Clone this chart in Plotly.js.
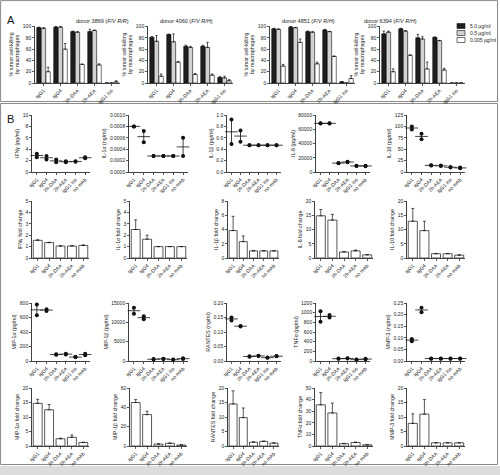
<!DOCTYPE html>
<html><head><meta charset="utf-8">
<script src="https://cdn.plot.ly/plotly-3.0.1.min.js"></script>
<style>html,body{margin:0;padding:0;background:#fff}#chart{width:500px;height:475px}</style>
</head><body><div id="chart"></div>
<script>
// ---------- DATA ----------
const catsA = ['IgG1','IgG4','2h-DAA','2h-AEA','IgG1 iso'];
const catsCyto = ['IgG1','IgG4','2h-DAA','2h-AEA','IgG1 iso','no mAb'];
const catsFold = ['IgG1','IgG4','2h-DAA','2h-AEA','no mAb'];
const concLabels = ['5.0 µg/ml','0.5 µg/ml','0.005 µg/ml'];
const donorNames = ['donor 3869','donor 4060','donor 4851','donor 6394'];
const donorGenotypes = ['F/V R/R','F/V R/H','F/V R/H','F/V R/H'];

const d3869_hi=[98,99,91,91,0],   d3869_hiErr=[1,1,1,4,0];
const d3869_mid=[97,99,90,93,0],  d3869_midErr=[1,1,1,1,0];
const d3869_lo=[20,60,33,32,2],   d3869_loErr=[8,10,0.5,2,2];
const d4060_hi=[81,86,65,65,10],  d4060_hiErr=[1,0.5,2,2,1];
const d4060_mid=[74,73,63,63,9],  d4060_midErr=[10,14,2,9,3];
const d4060_lo=[12,37,15,14,4],   d4060_loErr=[4,1,2,2,2];
const d4851_hi=[96,99,91,94,2],   d4851_hiErr=[1,1,1,1,0.5];
const d4851_mid=[95,98,90,91,0],  d4851_midErr=[1,0.5,1,0.5,0];
const d4851_lo=[30,72,34,47,8],   d4851_loErr=[3,6,3,1,5];
const d6394_hi=[87,96,80,81,0],   d6394_hiErr=[5,1,6,0.5,0];
const d6394_mid=[90,92,78,75,0],  d6394_midErr=[2,1,4,0.5,0];
const d6394_lo=[20,49,25,23,0],   d6394_loErr=[5,1,12,3,0];

// cytokine concentrations, two replicates
const ifng_r1=[3.2,2.8,2.2,1.9,1.9,2.6],  ifng_r2=[2.6,2.2,1.7,1.7,1.8,2.4];
const il1a_r1=[0.0008,0.00072,0.00028,0.00028,0.00028,0.0006], il1a_r2=[0.0008,0.00052,0.00028,0.00028,0.00028,0.00028];
const il1b_r1=[0.92,0.73,0.47,0.47,0.47,0.47], il1b_r2=[0.49,0.53,0.47,0.47,0.47,0.47];
const il8_r1=[68500,68500,12800,14300,8800,8800], il8_r2=[68000,68000,12200,13700,8300,8200];
const il10_r1=[100,84,15,14,11,10], il10_r2=[93,72,14,13,10,8];
const mip1a_r1=[780,715,92,100,57,100], mip1a_r2=[630,690,85,90,50,80];
const mip1b_r1=[13800,11600,500,600,400,700], mip1b_r2=[12200,10800,400,500,300,500];
const rantes_r1=[0.150,0.121,0.016,0.018,0.012,0.017], rantes_r2=[0.140,0.119,0.015,0.017,0.011,0.016];
const tnfa_r1=[1030,950,50,55,30,45], tnfa_r2=[810,900,45,50,25,35];
const mmp3_r1=[0.095,0.23,0.011,0.011,0.011,0.011], mmp3_r2=[0.085,0.21,0.010,0.010,0.010,0.010];

// fold changes
const ifng_fc=[1.55,1.35,1.05,1.05,1.1],  ifng_fcErr=[0.05,0.03,0.02,0.02,0.05];
const il1a_fc=[2.5,1.65,1,1,1],           il1a_fcErr=[0.85,0.35,0,0,0];
const il1b_fc=[3.85,2.3,1,1,1],           il1b_fcErr=[2,0.8,0,0,0];
const il8_fc=[14.8,13.3,2.1,2.5,1.1],     il8_fcErr=[2.2,2,0.1,0.3,0.1];
const il10_fc=[12.9,9.6,1.5,1.5,1.0],     il10_fcErr=[4.5,3.3,0.1,0.1,0.1];
const mip1a_fc=[14.7,12.5,2.5,3.0,1.2],   mip1a_fcErr=[1.4,1.8,0.2,0.8,0.1];
const mip1b_fc=[45,32.5,2,2.8,1],         mip1b_fcErr=[3,3.5,0.2,0.3,0.1];
const rantes_fc=[14.5,9.8,1.3,1.6,1.0],   rantes_fcErr=[4.5,3.3,0.1,0.1,0.05];
const tnfa_fc=[35.5,28.5,2,3,1],          tnfa_fcErr=[10.5,8.5,0.3,0.4,0.1];
const mmp3_fc=[7.8,11,1.1,1.1,1.1],       mmp3_fcErr=[3.3,5,0,0,0];

// ---------- LAYOUT HELPERS ----------
const W=500,H=475;
const FONT='Arial, "Liberation Sans", sans-serif';
function xd(a,b){return [a/W,b/W];}
function yd(t,b){return [1-b/H,1-t/H];}
const barColors=['#1e1e1e','#d2d2d2','#ffffff'];

const traces=[];
const layout={
  width:W,height:H,margin:{l:0,r:0,t:0,b:0},
  paper_bgcolor:'#fff',plot_bgcolor:'rgba(0,0,0,0)',
  font:{family:FONT,size:5,color:'#222'},
  showlegend:false,barmode:'group',bargap:0.18,bargroupgap:0.08,
  annotations:[],shapes:[]
};
let axN=0;
function addAxes(xdom,ydom,cats,yopt){
  axN++;
  const s=axN===1?'':String(axN);
  const common={showline:true,linecolor:'#111',linewidth:0.8,ticks:'outside',ticklen:2,tickwidth:0.7,tickcolor:'#111',
    showgrid:false,zeroline:false,tickfont:{size:5,family:FONT,color:'#222'}};
  layout['xaxis'+s]=Object.assign({},common,{domain:xdom,anchor:'y'+s,type:'category',categoryarray:cats,
    categoryorder:'array',tickangle:-45,range:[-0.5,cats.length-0.5]});
  layout['yaxis'+s]=Object.assign({},common,{domain:ydom,anchor:'x'+s,range:yopt.range,dtick:yopt.dtick,tick0:0,
    tickformat:yopt.fmt||'',title:{text:yopt.title,font:{size:5.3,family:FONT,color:'#222'},standoff:2}});
  return {x:'x'+s,y:'y'+s};
}

// ---------- PANEL A ----------
const aData=[
  [d3869_hi,d3869_hiErr,d3869_mid,d3869_midErr,d3869_lo,d3869_loErr],
  [d4060_hi,d4060_hiErr,d4060_mid,d4060_midErr,d4060_lo,d4060_loErr],
  [d4851_hi,d4851_hiErr,d4851_mid,d4851_midErr,d4851_lo,d4851_loErr],
  [d6394_hi,d6394_hiErr,d6394_mid,d6394_midErr,d6394_lo,d6394_loErr]];
const aX=[[35,120],[148,233],[270,355],[380,465]];
aData.forEach((d,i)=>{
  const ax=addAxes(xd(...aX[i]),yd(26,83),catsA,{range:[0,101],dtick:20,title:'% tumor cell-killing<br>by macrophages'});
  for(let k=0;k<3;k++){
    traces.push({type:'bar',x:catsA,y:d[2*k],xaxis:ax.x,yaxis:ax.y,name:concLabels[k],offsetgroup:String(k),
      marker:{color:barColors[k],line:{color:'#111',width:0.6}},
      error_y:{type:'data',array:d[2*k+1],arrayminus:d[2*k+1].map(()=>0),symmetric:false,color:'#111',thickness:0.7,width:1.2}});
  }
  layout.annotations.push({xref:'paper',yref:'paper',x:(aX[i][0]+aX[i][1])/2/W-0.008,y:1-16/H,
    text:donorNames[i]+' (<i>'+donorGenotypes[i]+'</i>)',showarrow:false,font:{size:5.5,family:FONT,color:'#222'}});
});
// legend (swatches + labels)
concLabels.forEach((t,k)=>{
  const yc=26+k*7;
  layout.shapes.push({type:'rect',xref:'paper',yref:'paper',x0:457/W,x1:465/W,y0:1-(yc+2.5)/H,y1:1-(yc-2.5)/H,
    fillcolor:barColors[k],line:{color:'#111',width:0.6}});
  layout.annotations.push({xref:'paper',yref:'paper',x:468/W,y:1-yc/H,xanchor:'left',yanchor:'middle',text:t,
    showarrow:false,font:{size:5,family:FONT,color:'#222'}});
});

// ---------- PANEL B ----------
const cyto=[
  {r1:ifng_r1,r2:ifng_r2,title:'IFNγ (pg/ml)',range:[0,10],dtick:2},
  {r1:il1a_r1,r2:il1a_r2,title:'IL-1α (ng/ml)',range:[0,0.001],dtick:0.0002,fmt:'.4f'},
  {r1:il1b_r1,r2:il1b_r2,title:'IL-1β (pg/ml)',range:[0,1],dtick:0.2,fmt:'.1f'},
  {r1:il8_r1,r2:il8_r2,title:'IL-8 (pg/ml)',range:[0,80000],dtick:20000,fmt:'d'},
  {r1:il10_r1,r2:il10_r2,title:'IL-10 (pg/ml)',range:[0,125],dtick:25},
  {r1:mip1a_r1,r2:mip1a_r2,title:'MIP-1α (pg/ml)',range:[0,800],dtick:200},
  {r1:mip1b_r1,r2:mip1b_r2,title:'MIP-1β (pg/ml)',range:[0,15000],dtick:5000,fmt:'d'},
  {r1:rantes_r1,r2:rantes_r2,title:'RANTES (ng/ml)',range:[0,0.2],dtick:0.05,fmt:'.2f'},
  {r1:tnfa_r1,r2:tnfa_r2,title:'TNFα (pg/ml)',range:[0,1200],dtick:200,fmt:'d'},
  {r1:mmp3_r1,r2:mmp3_r2,title:'MMP-3 (ng/ml)',range:[0,0.25],dtick:0.05,fmt:'.2f'}];
const fold=[
  {v:ifng_fc,e:ifng_fcErr,title:'IFNγ fold change',range:[0,5],dtick:1},
  {v:il1a_fc,e:il1a_fcErr,title:'IL-1α fold change',range:[0,5],dtick:1},
  {v:il1b_fc,e:il1b_fcErr,title:'IL-1β fold change',range:[0,8],dtick:2},
  {v:il8_fc,e:il8_fcErr,title:'IL-8 fold change',range:[0,20],dtick:5},
  {v:il10_fc,e:il10_fcErr,title:'IL-10 fold change',range:[0,20],dtick:5},
  {v:mip1a_fc,e:mip1a_fcErr,title:'MIP-1α fold change',range:[0,20],dtick:5},
  {v:mip1b_fc,e:mip1b_fcErr,title:'MIP-1β fold change',range:[0,60],dtick:20},
  {v:rantes_fc,e:rantes_fcErr,title:'RANTES fold change',range:[0,20],dtick:5},
  {v:tnfa_fc,e:tnfa_fcErr,title:'TNFα fold change',range:[0,50],dtick:10},
  {v:mmp3_fc,e:mmp3_fcErr,title:'MMP-3 fold change',range:[0,20],dtick:5}];

const scX=[[32,90],[129,188],[227,281],[316,370],[407,465]];
const fcX=[[32,89],[130,187],[228,279],[315,373],[407,465]];
const rowsY=[[115,172],[201,258],[303,361],[388,446]];

function addScatter(c,xdom,ydom){
  const ax=addAxes(xdom,ydom,catsCyto,c);
  const mean=c.r1.map((v,i)=>(v+c.r2[i])/2);
  const half=c.r1.map((v,i)=>Math.abs(v-c.r2[i])/2);
  traces.push({type:'scatter',mode:'markers',x:catsCyto,y:mean,xaxis:ax.x,yaxis:ax.y,cliponaxis:false,
    marker:{symbol:'line-ew-open',size:9,color:'#111',line:{color:'#111',width:0.8}},
    error_y:{type:'data',array:half,color:'#111',thickness:0.8,width:1.5}});
  traces.push({type:'scatter',mode:'markers',x:catsCyto.concat(catsCyto),y:c.r1.concat(c.r2),xaxis:ax.x,yaxis:ax.y,
    cliponaxis:false,marker:{size:4,color:'#111'}});
}
function addFold(f,xdom,ydom){
  const ax=addAxes(xdom,ydom,catsFold,f);
  traces.push({type:'bar',x:catsFold,y:f.v,xaxis:ax.x,yaxis:ax.y,width:0.78,
    marker:{color:'#fff',line:{color:'#111',width:0.7}},
    error_y:{type:'data',array:f.e,arrayminus:f.e.map(()=>0),symmetric:false,color:'#111',thickness:0.7,width:1.5}});
}
for(let i=0;i<5;i++) addScatter(cyto[i],xd(...scX[i]),yd(...rowsY[0]));
for(let i=0;i<5;i++) addFold(fold[i],xd(...fcX[i]),yd(...rowsY[1]));
for(let i=0;i<5;i++) addScatter(cyto[5+i],xd(...scX[i]),yd(...rowsY[2]));
for(let i=0;i<5;i++) addFold(fold[5+i],xd(...fcX[i]),yd(...rowsY[3]));

// panel letters & frames
layout.annotations.push({xref:'paper',yref:'paper',x:5/W,y:1-12/H,xanchor:'left',text:'A',showarrow:false,font:{size:11,family:FONT,color:'#111'}});
layout.annotations.push({xref:'paper',yref:'paper',x:5/W,y:1-111/H,xanchor:'left',text:'B',showarrow:false,font:{size:11,family:FONT,color:'#111'}});
layout.shapes.push({type:'rect',xref:'paper',yref:'paper',x0:0.6/W,x1:497.5/W,y0:1-101.5/H,y1:1-0.6/H,line:{color:'#8a8a8a',width:1},fillcolor:'rgba(0,0,0,0)',layer:'below'});
layout.shapes.push({type:'rect',xref:'paper',yref:'paper',x0:0.6/W,x1:497.5/W,y0:1-464.5/H,y1:1-103.5/H,line:{color:'#8a8a8a',width:1},fillcolor:'rgba(0,0,0,0)',layer:'below'});
layout.shapes.push({type:'rect',xref:'paper',yref:'paper',x0:0,x1:1,y0:0,y1:1-466/H,line:{width:0},fillcolor:'#dcdcdc',layer:'below'});

Plotly.newPlot('chart',traces,layout,{displayModeBar:false,staticPlot:true});
</script></body></html>
